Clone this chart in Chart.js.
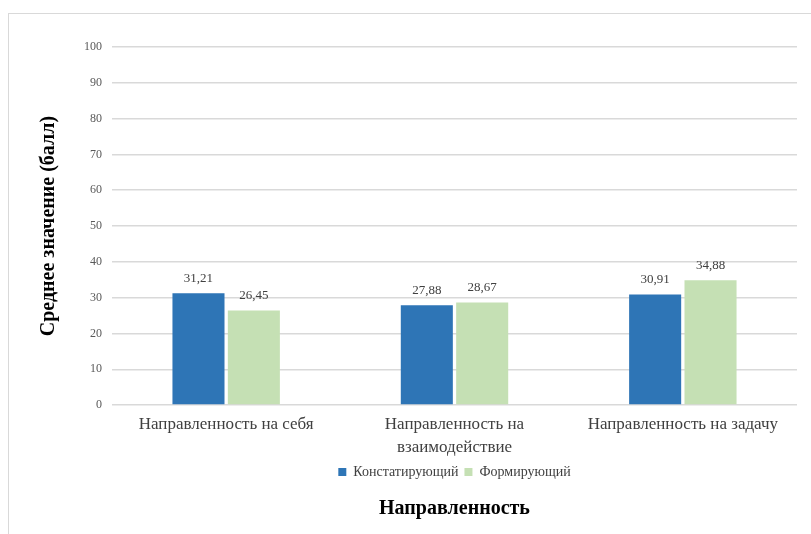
<!DOCTYPE html>
<html>
<head>
<meta charset="utf-8">
<script src="https://cdn.jsdelivr.net/npm/chart.js@4/dist/chart.umd.min.js"></script>
<style>
  body { margin: 0; background: #fff; }
  #wrap { position: relative; width: 811px; height: 534px; }
  #frame { position: absolute; left: 8px; top: 13px; right: -2px; bottom: -2px; border: 1px solid #d9d9d9; pointer-events: none; }
</style>
</head>
<body>
<div id="wrap">
  <canvas id="myChart"></canvas>
  <div id="frame"></div>
</div>
<script>
const categories = ["Направленность на себя", ["Направленность на", "взаимодействие"], "Направленность на задачу"];
const seriesNames = ["Констатирующий", "Формирующий"];
const constValues = [31.21, 27.88, 30.91];
const formValues = [26.45, 28.67, 34.88];
const yTicks = [0, 10, 20, 30, 40, 50, 60, 70, 80, 90, 100];

const serif = "'Liberation Serif', 'Times New Roman', serif";

// values drawn over the bars, comma as decimal mark
const barValues = {
    id: 'barValues',
    afterDatasetsDraw(chart) {
        const ctx = chart.ctx;
        ctx.save();
        ctx.font = "13px " + serif;
        ctx.fillStyle = "#404040";
        ctx.textAlign = "center";
        ctx.textBaseline = "alphabetic";
        chart.data.datasets.forEach((ds, i) => {
            chart.getDatasetMeta(i).data.forEach((bar, j) => {
                ctx.fillText(ds.data[j].toFixed(2).replace('.', ','), bar.x, bar.y - 11);
            });
        });
        ctx.restore();
    }
};

const data = {
    labels: categories,
    datasets: [{
        label: seriesNames[0],
        data: constValues,
        backgroundColor: '#2e75b6',
        categoryPercentage: 0.485,
        barPercentage: 0.94
    }, {
        label: seriesNames[1],
        data: formValues,
        backgroundColor: '#c5e0b4',
        categoryPercentage: 0.485,
        barPercentage: 0.94
    }]
};

const config = {
    type: 'bar',
    data: data,
    options: {
        responsive: true,
        maintainAspectRatio: false,
        animation: false,
        layout: { padding: { left: 37, right: 14, top: 47, bottom: 13 } },
        scales: {
            x: {
                grid: { display: false },
                border: { display: false },
                ticks: { color: '#404040', font: { family: serif, size: 17, lineHeight: 1.35 }, maxRotation: 0, padding: 0 }
            },
            y: {
                min: 0,
                max: 100,
                afterBuildTicks(axis) { axis.ticks = yTicks.map(v => ({ value: v })); },
                grid: { color: '#d9d9d9', lineWidth: 1.5, drawTicks: false },
                border: { display: false },
                ticks: { color: '#595959', font: { family: serif, size: 12 }, padding: 10 },
                title: {
                    display: true,
                    text: 'Среднее значение (балл)',
                    color: '#000',
                    font: { family: serif, size: 20, weight: 'bold' },
                    padding: { top: 0, bottom: 13 }
                }
            }
        },
        plugins: {
            legend: {
                position: 'bottom',
                fullSize: false,
                labels: {
                    color: '#404040',
                    font: { family: serif, size: 14 },
                    boxWidth: 8,
                    boxHeight: 8,
                    padding: 6
                }
            },
            title: {
                display: true,
                position: 'bottom',
                fullSize: false,
                text: 'Направленность',
                color: '#000',
                font: { family: serif, size: 20, weight: 'bold' },
                padding: { top: 8, bottom: 0 }
            },
            tooltip: { enabled: false }
        }
    },
    plugins: [barValues]
};

const myChart = new Chart(document.getElementById('myChart'), config);
</script>
</body>
</html>
